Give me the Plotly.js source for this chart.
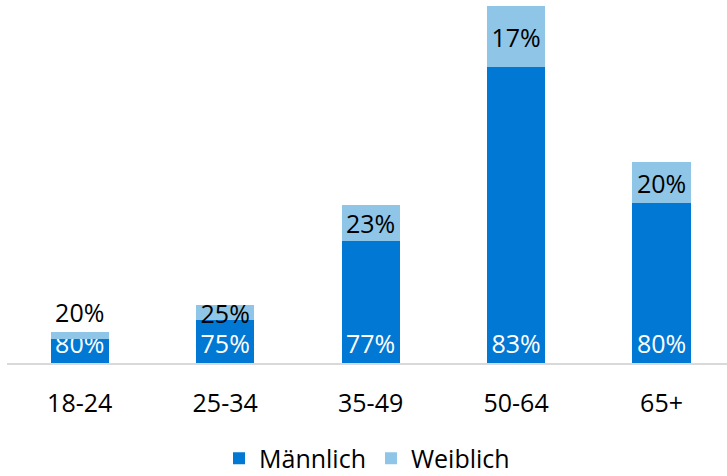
<!DOCTYPE html>
<html><head><meta charset="utf-8">
<script src="https://cdn.plot.ly/plotly-3.0.1.min.js"></script>
<style>html,body{margin:0;padding:0;background:#fff}</style>
</head><body>
<div id="chart" style="width:727px;height:476px"></div>
<script>
const categories = ["18-24", "25-34", "35-49", "50-64", "65+"];
const maleValues = [24, 43, 122, 296, 160];
const femaleValues = [7, 15, 36, 61, 41];
const maleLabels = ["80%", "75%", "77%", "83%", "80%"];
const femaleLabels = ["20%", "25%", "23%", "17%", "20%"];

const font = "'Segoe UI', 'Open Sans', sans-serif";
const data = [
  {type: "bar", name: "Männlich", x: categories, y: maleValues, text: maleLabels,
   marker: {color: "#0078D4"}, textposition: "inside", insidetextanchor: "start",
   constraintext: "none", textangle: 0, cliponaxis: false,
   textfont: {color: "#ffffff", size: 25, family: font}, hoverinfo: "none"},
  {type: "bar", name: "Weiblich", x: categories, y: femaleValues, text: femaleLabels,
   marker: {color: "#8FC6E8"},
   textposition: ["outside", "inside", "inside", "inside", "inside"],
   insidetextanchor: "middle",
   constraintext: "none", textangle: 0, cliponaxis: false,
   textfont: {color: "#000000", size: 25, family: font},
   outsidetextfont: {color: "#000000", size: 25, family: font}, hoverinfo: "none"}
];
const layout = {
  width: 727, height: 476, barmode: "stack", bargap: 0.6,
  margin: {l: 7, r: 0, t: 0, b: 113, autoexpand: false},
  paper_bgcolor: "#ffffff", plot_bgcolor: "#ffffff",
  font: {family: font, size: 25, color: "#000000"},
  xaxis: {range: [-0.5, 4.45], showline: true, linecolor: "#d9d9d9", linewidth: 1.5,
          ticks: "", ticklabelstandoff: 17, tickfont: {size: 25, color: "#000"}, showgrid: false},
  yaxis: {range: [0, 363], visible: false, showgrid: false, zeroline: false},
  showlegend: true,
  legend: {orientation: "h", x: 0.5, xanchor: "center", y: -0.2, yanchor: "top",
           font: {size: 25, color: "#000"}, traceorder: "normal", itemwidth: 30}
};
Plotly.newPlot("chart", data, layout, {displayModeBar: false, staticPlot: true});
</script>
</body></html>
